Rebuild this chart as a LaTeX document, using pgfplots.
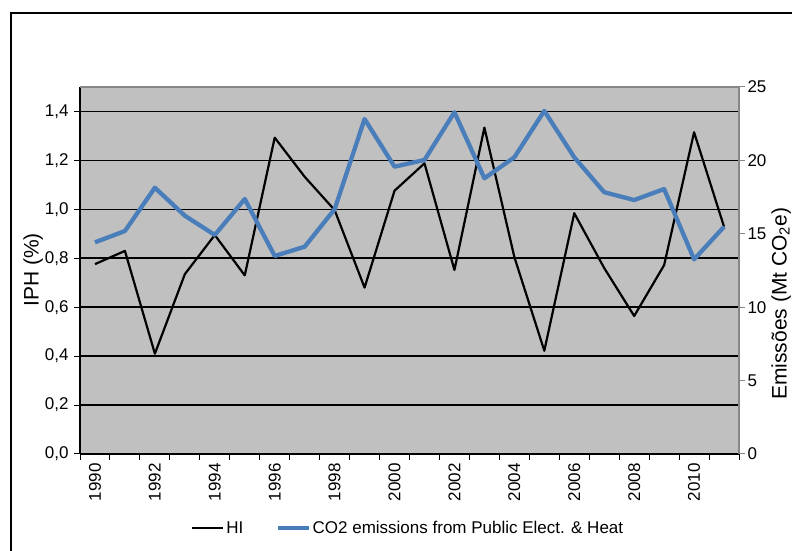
\documentclass[border=0pt]{standalone}
\usepackage{pgfplots}
\pgfplotsset{compat=1.18}
\usepackage{fontspec}
\setmainfont{Liberation Sans}
\definecolor{plotgray}{HTML}{C0C0C0}
\definecolor{xlblue}{HTML}{4A7EBB}
\definecolor{axgray}{HTML}{878787}
\newcommand{\chfont}{\fontsize{17bp}{20bp}\selectfont}
\newcommand{\lbfont}{\fontsize{21bp}{25bp}\selectfont}
\pgfplotstableread{
x hi
0 0.776
1 0.830
2 0.410
3 0.735
4 0.895
5 0.730
6 1.293
7 1.133
8 0.997
9 0.680
10 1.076
11 1.188
12 0.752
13 1.334
14 0.805
15 0.422
16 0.984
17 0.760
18 0.564
19 0.772
20 1.315
21 0.929
}\hidata
\pgfplotstableread{
x co
0 14.42
1 15.19
2 18.14
3 16.23
4 14.92
5 17.37
6 13.49
7 14.12
8 16.67
9 22.82
10 19.57
11 20.03
12 23.28
13 18.78
14 20.21
15 23.37
16 20.21
17 17.83
18 17.30
19 18.05
20 13.26
21 15.48
}\codata
\begin{document}
\begin{tikzpicture}[x=1bp,y=1bp]
\useasboundingbox (0,0) rectangle (792,551);
\fill[white] (0,0) rectangle (792,551);
\draw[black, line width=1.5bp] (11,-5) -- (11,538) -- (800,538);
\begin{axis}[
  at={(80bp,97bp)}, anchor=south west,
  scale only axis, width=659bp, height=367bp,
  xmin=-0.5, xmax=21.5, ymin=0, ymax=1.5,
  axis background/.style={fill=plotgray},
  axis x line*=bottom, axis y line*=left,
  axis line style={black, line width=1.3bp},
  tick align=outside,
  xtick={0,2,...,20},
  xticklabels={1990,1992,1994,1996,1998,2000,2002,2004,2006,2008,2010},
  minor xtick={-0.5,0.5,...,21.5},
  major x tick style={draw=none},
  minor x tick style={black, line width=1bp},
  minor tick length=6bp,
  x tick label style={rotate=90, anchor=east},
  y tick label style={xshift=-2bp},
  ytick={0,0.2,...,1.41},
  major tick length=6bp,
  y tick style={black, line width=1bp},
  ymajorgrids,
  major grid style={black, line width=1.6bp},
  /pgf/number format/.cd, use comma, fixed, fixed zerofill, precision=1, assume math mode=true,
  /pgfplots/.cd,
  tick label style={font=\chfont},
  clip=false,
]
\addplot[black, line width=2.2bp, line join=round, mark=none] table[x=x,y=hi]{\hidata};
\draw[axgray, line width=1.3bp] (rel axis cs:0,1) -- (rel axis cs:1,1);
\end{axis}
\begin{axis}[
  at={(80bp,97bp)}, anchor=south west,
  scale only axis, width=659bp, height=367bp,
  xmin=-0.5, xmax=21.5, ymin=0, ymax=25,
  axis x line=none, axis y line*=right,
  axis line style={axgray, line width=1.3bp},
  tick align=outside,
  ytick={0,5,...,25},
  major tick length=6bp,
  y tick style={axgray, line width=1bp},
  y tick label style={xshift=-1bp},
  /pgf/number format/assume math mode=true,
  tick label style={font=\chfont},
  legend columns=2,
  legend style={at={(0.498,-0.2016)}, anchor=center, draw=none, fill=none,
    font=\chfont,
    /tikz/every even column/.append style={column sep=30bp}},
  legend image code/.code={\draw[#1] (0bp,0bp) -- (31bp,0bp);},
  clip=false,
]
\addlegendimage{black, line width=2.2bp}
\addlegendentry{HI}
\addplot[xlblue, line width=4.3bp, line join=round, mark=none] table[x=x,y=co]{\codata};
\addlegendentry{CO2 emissions from Public Elect. \& Heat}
\end{axis}
\node[rotate=90, anchor=base, inner sep=0pt, font=\lbfont] at (38.5,281) {IPH (\%)};
\node[rotate=90, anchor=base west, inner sep=0pt, font=\lbfont] at (786.5,151) {Emissões (Mt CO\textsubscript{2}e)};
\end{tikzpicture}
\end{document}
